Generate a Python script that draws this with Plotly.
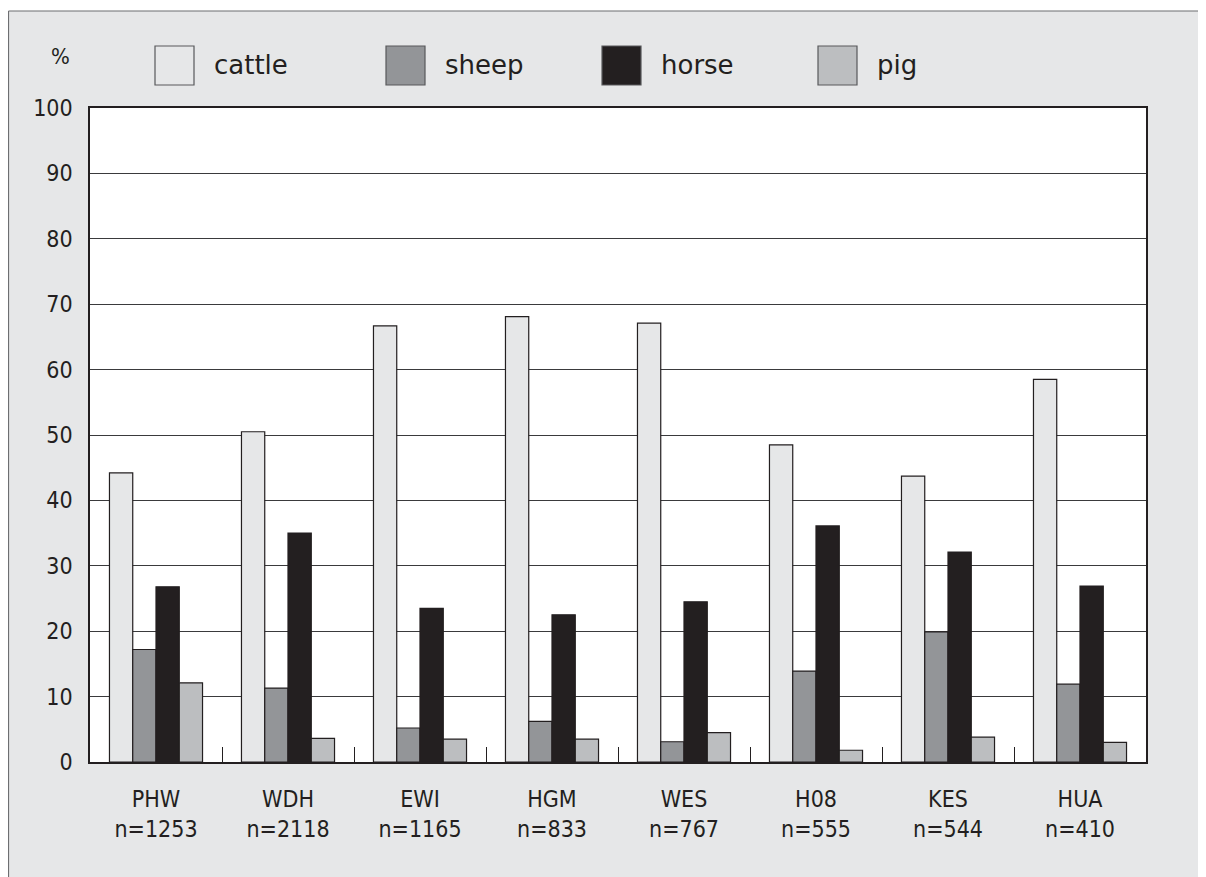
import plotly.graph_objects as go

# ---- data ----
sites = ["PHW", "WDH", "EWI", "HGM", "WES", "H08", "KES", "HUA"]
sample_sizes = ["n=1253", "n=2118", "n=1165", "n=833", "n=767", "n=555", "n=544", "n=410"]
series_names = ["cattle", "sheep", "horse", "pig"]
cattle = [44.2, 50.5, 66.7, 68.1, 67.1, 48.5, 43.7, 58.5]
sheep = [17.2, 11.3, 5.2, 6.2, 3.1, 13.9, 19.9, 11.9]
horse = [26.8, 35.0, 23.5, 22.5, 24.5, 36.1, 32.1, 26.9]
pig = [12.1, 3.6, 3.5, 3.5, 4.5, 1.8, 3.8, 3.0]
y_ticks = [0, 10, 20, 30, 40, 50, 60, 70, 80, 90, 100]

# ---- style ----
PAGE_W, PAGE_H = 1206, 877
OFF = 8                                   # page body margin offset
FIG_W, FIG_H = PAGE_W - OFF, PAGE_H - OFF
L, R, T, B = 90, 1146, 108, 762          # plot area in page px
colors = ["#e6e7e8", "#939598", "#231f20", "#bcbec0"]
edge = "#231f20"
FONT = "DejaVu Sans"
TICKFONT = "DejaVu Sans Condensed, DejaVu Sans"
bg = "#e6e7e8"

def px_x(p):
    return (p - L) / (R - L)

def px_y(p):
    return (B - p) / (B - T)

fig = go.Figure()
values = [cattle, sheep, horse, pig]
ticktext = [f"{s}<br>{n}" for s, n in zip(sites, sample_sizes)]
for name, vals, col in zip(series_names, values, colors):
    fig.add_trace(go.Bar(
        x=sites, y=vals, name=name, showlegend=False,
        marker=dict(color=col, line=dict(color=edge, width=1.2)),
        hoverinfo="x+y+name",
    ))

shapes = []
annotations = []
# white strip above the outer frame + frame lines
shapes.append(dict(type="rect", xref="paper", yref="paper", layer="below",
                   x0=px_x(-20), x1=px_x(PAGE_W + 20), y0=px_y(11), y1=px_y(-20),
                   fillcolor="white", line=dict(width=0)))
shapes.append(dict(type="line", xref="paper", yref="paper",
                   x0=px_x(8.5), x1=px_x(PAGE_W + 20), y0=px_y(11), y1=px_y(11),
                   line=dict(color="#6d6e71", width=1.2)))
shapes.append(dict(type="line", xref="paper", yref="paper",
                   x0=px_x(8.5), x1=px_x(8.5), y0=px_y(11), y1=px_y(PAGE_H + 20),
                   line=dict(color="#6d6e71", width=1.2)))

# legend (manual, large square swatches)
legend_left = [155, 386, 602, 818]
box = 39
box_top = 46
for name, col, lx in zip(series_names, colors, legend_left):
    shapes.append(dict(type="rect", xref="paper", yref="paper",
                       x0=px_x(lx), x1=px_x(lx + box),
                       y0=px_y(box_top + box), y1=px_y(box_top),
                       fillcolor=col, line=dict(color="#58595b", width=1.2)))
    annotations.append(dict(xref="paper", yref="paper", x=px_x(lx + box + 18),
                            y=px_y(box_top + box / 2), text=name, showarrow=False,
                            xanchor="left", yanchor="middle",
                            font=dict(family=FONT, size=26, color=edge)))

annotations.append(dict(xref="paper", yref="paper", x=px_x(60), y=px_y(57),
                        text="%", showarrow=False, xanchor="center", yanchor="middle",
                        font=dict(family=TICKFONT, size=22, color=edge)))

fig.update_layout(
    width=FIG_W, height=FIG_H,
    margin=dict(l=L - OFF, r=FIG_W - (R - OFF), t=T - OFF, b=FIG_H - (B - OFF), pad=0),
    paper_bgcolor=bg, plot_bgcolor="white",
    barmode="group", bargap=0.295, bargroupgap=0,
    font=dict(family=TICKFONT, color=edge, size=23),
    shapes=shapes, annotations=annotations,
    showlegend=False,
)
fig.update_xaxes(
    type="category", tickmode="array", tickvals=sites, ticktext=ticktext,
    tickson="boundaries", ticks="inside", ticklen=15, tickwidth=1.2, tickcolor=edge,
    showline=True, linecolor=edge, linewidth=1.5, mirror=True,
    showgrid=False, ticklabelstandoff=16,
    tickfont=dict(family=TICKFONT, size=23, color=edge),
)
fig.update_yaxes(
    range=[0, 100], tickmode="array", tickvals=y_ticks,
    showgrid=True, gridcolor="#3a3a3c", gridwidth=1.2,
    showline=True, linecolor=edge, linewidth=1.5, mirror=True,
    ticks="", ticklabelstandoff=11, zeroline=False,
    tickfont=dict(family=TICKFONT, size=23, color=edge),
)

fig.write_html("out.html")
